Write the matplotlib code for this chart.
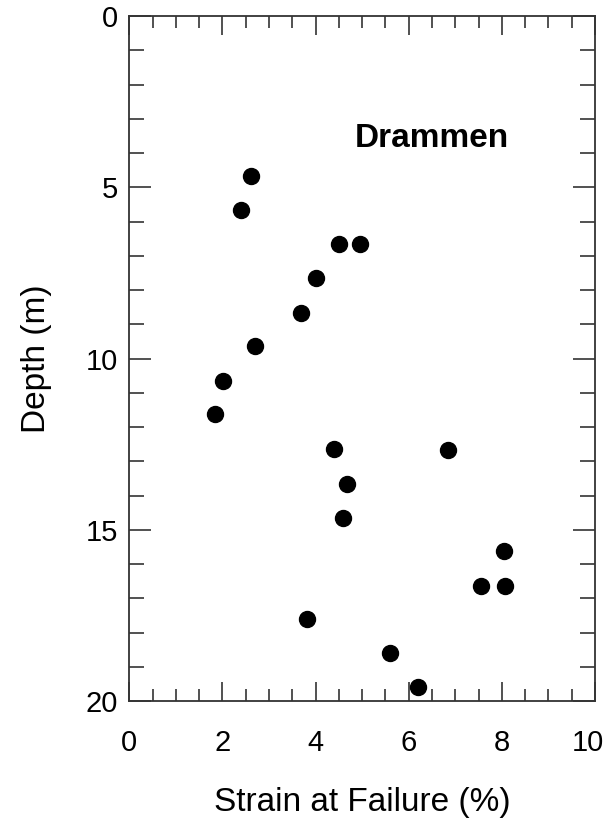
import matplotlib
matplotlib.use("Agg")
import matplotlib.pyplot as plt
from matplotlib.ticker import MultipleLocator
from matplotlib.transforms import ScaledTranslation

plt.rcParams['font.family'] = ['Liberation Sans', 'DejaVu Sans']

# strain at failure (%) and depth (m)
strain = [2.61, 2.39, 4.51, 4.95, 4.00, 3.68, 2.70, 2.01, 1.84, 4.39,
          6.85, 4.67, 4.59, 8.05, 7.55, 8.06, 3.81, 5.59, 6.19]
depth = [4.67, 5.66, 6.67, 6.67, 7.64, 8.66, 9.63, 10.65, 11.61, 12.65,
         12.67, 13.67, 14.67, 15.62, 16.63, 16.65, 17.60, 18.59, 19.60]

fig = plt.figure(figsize=(6.09, 8.18), dpi=100)
ax = fig.add_axes([0.2123, 0.143, 0.7647, 0.8374])

ax.plot(strain, depth, 'o', color='black', markersize=11.5, clip_on=False)

ax.set_xlim(0, 10)
ax.set_ylim(20, 0)
ax.xaxis.set_major_locator(MultipleLocator(2))
ax.xaxis.set_minor_locator(MultipleLocator(0.5))
ax.yaxis.set_major_locator(MultipleLocator(5))
ax.yaxis.set_minor_locator(MultipleLocator(1))

ax.tick_params(axis='both', which='both', direction='in', top=True, right=True,
               color='#333333', width=1.2, labelsize=21)
ax.tick_params(axis='x', which='major', length=14, pad=20)
ax.tick_params(axis='x', which='minor', length=8.5)
ax.tick_params(axis='y', which='major', length=16, pad=8)
ax.tick_params(axis='y', which='minor', length=11)
for s in ax.spines.values():
    s.set_color('#333333')
    s.set_linewidth(1.3)

ax.set_xlabel('Strain at Failure (%)', fontsize=24, labelpad=22)
ax.set_ylabel('Depth (m)', fontsize=24, labelpad=24)

ax.text(6.5, 3.82, 'Drammen', fontsize=24, fontweight='bold', ha='center', va='baseline')

# nudge the last x label so it stays inside the figure
last = ax.xaxis.get_major_ticks()[-1].label1
fig.canvas.draw()
for t in ax.xaxis.get_major_ticks():
    if t.label1.get_text() == '10':
        t.label1.set_transform(t.label1.get_transform() +
                               ScaledTranslation(-5 / 72, 0, fig.dpi_scale_trans))

plt.savefig('out.png', dpi=100)
